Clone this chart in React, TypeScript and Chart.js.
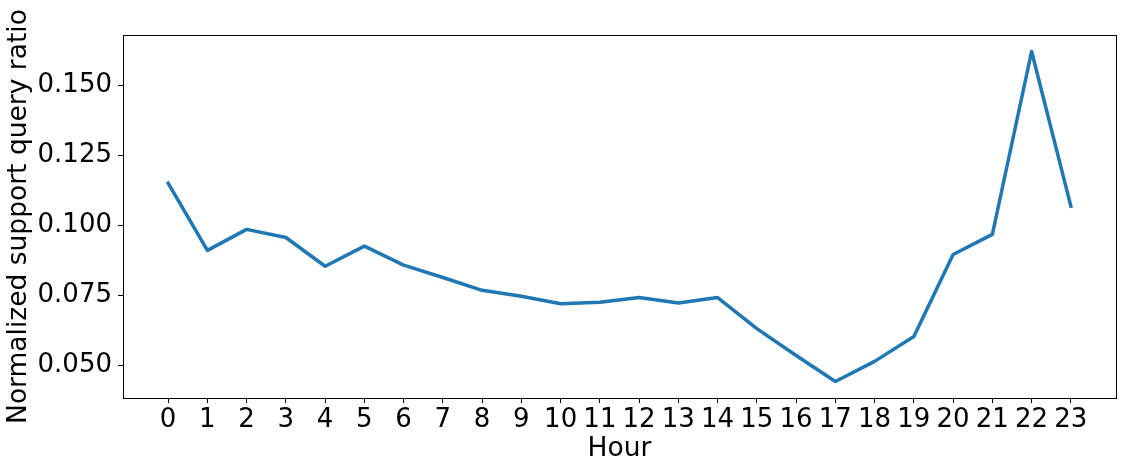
import React, { useEffect, useRef } from "react";
import { Chart, registerables } from "chart.js";

Chart.register(...registerables);

const hours: number[] = [0, 1, 2, 3, 4, 5, 6, 7, 8, 9, 10, 11, 12, 13, 14, 15, 16, 17, 18, 19, 20, 21, 22, 23];
const ratios: number[] = [
  0.1151, 0.0911, 0.0986, 0.0957, 0.0854, 0.0926, 0.0858, 0.0814, 0.0768, 0.0747,
  0.0720, 0.0725, 0.0742, 0.0723, 0.0742, 0.0631, 0.0535, 0.0442, 0.0514, 0.0603,
  0.0896, 0.0968, 0.1622, 0.1069,
];
const yTicks: number[] = [0.05, 0.075, 0.1, 0.125, 0.15];

const FONT = "'DejaVu Sans', sans-serif";
const TICK_FS = 26;
const TITLE_FS = 26.5;

const frame = {
  id: "frame",
  afterDraw(chart: any) {
    const { ctx, chartArea } = chart;
    ctx.save();
    ctx.strokeStyle = "#000";
    ctx.lineWidth = 1;
    ctx.strokeRect(
      Math.round(chartArea.left) + 0.5,
      Math.round(chartArea.top) + 0.5,
      Math.round(chartArea.right - chartArea.left),
      Math.round(chartArea.bottom - chartArea.top)
    );
    ctx.restore();
  },
};

export default function App() {
  const ref = useRef<HTMLCanvasElement>(null);
  useEffect(() => {
    document.body.style.margin = "0";
    const chart = new Chart(ref.current!, {
      type: "line",
      data: {
        datasets: [
          {
            data: hours.map((h, i) => ({ x: h, y: ratios[i] })),
            borderColor: "#1f77b4",
            borderWidth: 3.5,
            borderJoinStyle: "round",
            borderCapStyle: "square",
            pointRadius: 0,
            tension: 0,
            fill: false,
          },
        ],
      },
      options: {
        responsive: false,
        animation: false,
        layout: { padding: { left: 0, right: 10, top: 35, bottom: 0 } },
        plugins: { legend: { display: false }, tooltip: { enabled: false } },
        scales: {
          x: {
            type: "linear",
            min: -1.15,
            max: 24.15,
            afterBuildTicks: (s: any) => {
              s.ticks = hours.map((h) => ({ value: h }));
            },
            afterFit: (s: any) => {
              s.height = 72;
            },
            ticks: {
              autoSkip: false,
              maxRotation: 0,
              color: "#000",
              padding: 2,
              font: { family: FONT, size: TICK_FS },
              callback: (v: any) => String(v),
            },
            grid: { drawOnChartArea: false, drawTicks: true, tickLength: 5, color: "#000" },
            border: { display: true, color: "#000" },
            title: {
              display: true,
              text: "Hour",
              color: "#000",
              font: { family: FONT, size: TITLE_FS },
              padding: { top: 0, bottom: 5 },
            },
          },
          y: {
            type: "linear",
            min: 0.0383,
            max: 0.1681,
            afterBuildTicks: (s: any) => {
              s.ticks = yTicks.map((v) => ({ value: v }));
            },
            afterFit: (s: any) => {
              s.width = 123;
            },
            ticks: {
              color: "#000",
              padding: 6,
              font: { family: FONT, size: TICK_FS },
              callback: (v: any) => Number(v).toFixed(3),
            },
            grid: { drawOnChartArea: false, drawTicks: true, tickLength: 5, color: "#000" },
            border: { display: true, color: "#000" },
            title: {
              display: true,
              text: "Normalized support query ratio",
              color: "#000",
              font: { family: FONT, size: TITLE_FS },
              padding: { top: 3, bottom: 0 },
            },
          },
        },
      },
      plugins: [frame],
    });
    return () => chart.destroy();
  }, []);
  return <canvas ref={ref} width={1126} height={470} style={{ display: "block" }} />;
}
